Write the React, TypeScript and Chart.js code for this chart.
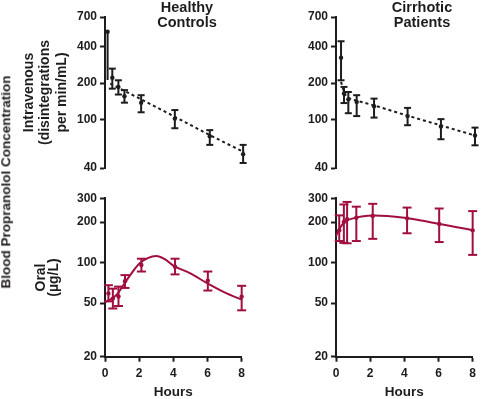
import React, { useEffect, useRef } from 'react';
import { Chart, registerables } from 'chart.js';

Chart.register(...registerables);

// ---------- Data ----------
const hoursTicks = [0, 2, 4, 6, 8];
const ivTicks = [40, 100, 200, 400, 700];
const oralTicks = [20, 50, 100, 200, 300];

// Healthy controls – intravenous
const hcIvHours = [0.15, 0.42, 0.77, 1.12, 2.08, 4.02, 6.03, 7.95];
const hcIvMean = [530, 221, 186, 156, 138, 102, 73, 52];
const hcIvLow = [212, 180, 161, 138, 115, 85, 62, 44];
const hcIvHigh = [530, 263, 211, 175, 159, 120, 82, 62];
const hcIvCaps = [false, true, true, true, true, true, true, true];
const hcIvFitHours = [0.3, 2, 4, 6, 8];
const hcIvFit = [198, 149, 106, 75, 54];

// Cirrhotic patients – intravenous
const lcIvHours = [0.29, 0.46, 0.71, 1.19, 2.19, 4.12, 6.04, 8.0];
const lcIvMean = [324, 164, 147, 140, 129, 107, 88, 74];
const lcIvLow = [211, 137, 113, 107, 104, 90, 69, 61.5];
const lcIvHigh = [442, 186, 169, 159, 149, 125, 101, 86];
const lcIvFitHours = [0.29, 0.5, 0.75, 1.2, 2.2, 4.1, 6, 8];
const lcIvFit = [205, 162, 150, 143, 131, 108, 90, 74];

// Healthy controls – oral
const hcOralHours = [0.2, 0.46, 0.79, 1.17, 2.13, 4.1, 6.02, 8];
const hcOralMean = [59, 54, 56, 72.8, 96, 93.2, 73.4, 55.9];
const hcOralLow = [51.5, 45.6, 47.6, 64.8, 85.8, 81.7, 62, 44.2];
const hcOralHigh = [67.9, 64, 66.3, 80.7, 106.8, 106.8, 85.8, 67.2];
const hcOralFitHours = [0, 0.3, 0.7, 1.3, 2, 2.5, 3, 3.5, 4, 5, 6, 7, 8];
const hcOralFit = [51, 53, 58, 75, 98, 108, 112, 106, 95, 83, 70, 60, 53];

// Cirrhotic patients – oral
const lcOralHours = [0.19, 0.46, 0.65, 1.19, 2.15, 4.16, 6.04, 8];
const lcOralMean = [173.5, 200, 210, 215, 222, 213, 193.6, 173.5];
const lcOralLow = [144.5, 140, 139, 144.5, 150, 165, 142, 114];
const lcOralHigh = [224, 270, 282, 260, 273, 256, 252, 241];
const lcOralFitHours = [0, 0.2, 0.5, 1, 1.5, 2.2, 3, 4, 5, 6, 7, 8];
const lcOralFit = [157, 178, 200, 213, 220, 224, 222, 215, 205, 194, 184, 174];

// ---------- Styles ----------
const FONT = "'Liberation Sans', Arial, Helvetica, sans-serif";
const INK = '#1f1c1d';
const RED = '#a10f3f';
const tickFont = { family: FONT, size: 12, weight: 'bold' as const };
const titleSize = 13.5;
const yTitleSize = 14;

type PanelProps = {
  left: number;
  top: number;
  width: number;
  height: number;
  yAxisWidth: number;
  padTop: number;
  padRight: number;
  padBottom: number;
  showX: boolean;
  xAxisHeight: number;
  yMin: number;
  yMax: number;
  yTicks: number[];
  yTitle?: string[];
  yTitlePad?: number;
  yTitleLineHeight?: number;
  color: string;
  dashed: boolean;
  smooth: boolean;
  capRadius: number;
  hours: number[];
  mean: number[];
  low: number[];
  high: number[];
  caps?: boolean[];
  fitHours: number[];
  fit: number[];
};

function Panel(p: PanelProps) {
  const ref = useRef<HTMLCanvasElement>(null);

  useEffect(() => {
    const errData: any[] = [];
    p.hours.forEach((h, i) => {
      errData.push({ x: h, y: p.low[i] }, { x: h, y: p.high[i] }, { x: h, y: null });
    });
    const meanData = p.hours.map((h, i) => ({ x: h, y: p.mean[i] }));
    const fitData = p.fitHours.map((h, i) => ({ x: h, y: p.fit[i] }));

    const gridOpts = {
      display: true,
      drawOnChartArea: false,
      drawTicks: true,
      tickLength: 5,
      tickColor: INK,
      tickWidth: 2,
    };
    const borderOpts = { display: true, color: INK, width: 2 };

    const chart = new Chart(ref.current as HTMLCanvasElement, {
      type: 'scatter',
      data: {
        datasets: [
          {
            data: fitData,
            showLine: true,
            borderColor: p.color,
            borderWidth: 2,
            borderDash: p.dashed ? [3, 3] : [],
            pointRadius: 0,
            tension: p.smooth ? 0.4 : 0,
            cubicInterpolationMode: p.smooth ? 'monotone' : 'default',
            clip: false,
            order: 3,
          } as any,
          {
            data: errData,
            showLine: true,
            spanGaps: false,
            borderColor: p.color,
            borderWidth: 2,
            pointStyle: 'line',
            pointRadius: (ctx: any) => {
              const i = ctx.dataIndex;
              if (i % 3 === 2) return 0;
              const k = Math.floor(i / 3);
              return !p.caps || p.caps[k] ? p.capRadius : 0;
            },
            pointBorderColor: p.color,
            pointBorderWidth: 2,
            pointHoverRadius: 0,
            clip: false,
            order: 2,
          } as any,
          {
            data: meanData,
            showLine: false,
            pointStyle: 'circle',
            pointRadius: 2.2,
            pointBackgroundColor: p.color,
            pointBorderColor: p.color,
            pointBorderWidth: 0,
            clip: false,
            order: 1,
          } as any,
        ],
      },
      options: {
        responsive: false,
        animation: false,
        devicePixelRatio: 1,
        events: [],
        layout: {
          padding: { left: 0, top: p.padTop, right: p.padRight, bottom: p.padBottom },
        },
        plugins: {
          legend: { display: false },
          tooltip: { enabled: false },
        },
        scales: {
          x: {
            type: 'linear',
            min: 0,
            max: 8,
            display: p.showX,
            afterBuildTicks: (s: any) => {
              s.ticks = hoursTicks.map((v) => ({ value: v }));
            },
            ticks: { font: tickFont, color: INK, padding: 5, callback: (v: any) => String(v) },
            grid: gridOpts,
            border: borderOpts,
            title: {
              display: true,
              text: 'Hours',
              color: INK,
              font: { family: FONT, size: titleSize, weight: 'bold', lineHeight: 1 },
              padding: 0,
            },
            afterFit: (s: any) => {
              s.height = p.xAxisHeight;
            },
          },
          y: {
            type: 'logarithmic',
            min: p.yMin,
            max: p.yMax,
            afterBuildTicks: (s: any) => {
              s.ticks = p.yTicks.map((v) => ({ value: v }));
            },
            ticks: {
              font: tickFont,
              color: INK,
              padding: 3,
              autoSkip: false,
              callback: (v: any) => String(v),
            },
            grid: gridOpts,
            border: borderOpts,
            title: {
              display: !!p.yTitle,
              text: p.yTitle || '',
              color: INK,
              font: {
                family: FONT,
                size: yTitleSize,
                weight: 'bold',
                lineHeight: p.yTitleLineHeight || 1.2,
              },
              padding: { top: p.yTitlePad || 0, bottom: 0 },
            },
            afterFit: (s: any) => {
              s.width = p.yAxisWidth;
            },
          },
        },
      } as any,
    });
    return () => chart.destroy();
  }, []);

  return (
    <canvas
      ref={ref}
      width={p.width}
      height={p.height}
      style={{
        position: 'absolute',
        left: p.left,
        top: p.top,
        width: p.width,
        height: p.height,
      }}
    />
  );
}

const textStyle: React.CSSProperties = {
  position: 'absolute',
  fontFamily: FONT,
  fontWeight: 700,
  fontSize: titleSize,
  color: INK,
  whiteSpace: 'nowrap',
  textAlign: 'center',
};

export default function App() {
  const topCommon = {
    top: 0,
    height: 185,
    padTop: 17,
    padBottom: 17,
    showX: false,
    xAxisHeight: 0,
    yMin: 40,
    yMax: 700,
    yTicks: ivTicks,
    color: INK,
    dashed: true,
    smooth: false,
    capRadius: 3.5,
  };
  const bottomCommon = {
    top: 185,
    height: 214,
    padTop: 13.3,
    padBottom: 0,
    showX: true,
    xAxisHeight: 42.3,
    yMin: 20,
    yMax: 300,
    yTicks: oralTicks,
    color: RED,
    dashed: false,
    smooth: true,
    capRadius: 4.5,
  };
  return (
    <div
      style={{
        position: 'absolute',
        left: 0,
        top: 0,
        width: 481,
        height: 399,
        background: '#fff',
        overflow: 'hidden',
      }}
    >
      <Panel
        {...topCommon}
        left={0}
        width={250}
        yAxisWidth={105}
        padRight={6}
        yTitle={['Intravenous', '(disintegrations', 'per min/mL)']}
        yTitlePad={21}
        yTitleLineHeight={1.17}
        hours={hcIvHours}
        mean={hcIvMean}
        low={hcIvLow}
        high={hcIvHigh}
        caps={hcIvCaps}
        fitHours={hcIvFitHours}
        fit={hcIvFit}
      />
      <Panel
        {...topCommon}
        left={250}
        width={231}
        yAxisWidth={86}
        padRight={6}
        hours={lcIvHours}
        mean={lcIvMean}
        low={lcIvLow}
        high={lcIvHigh}
        fitHours={lcIvFitHours}
        fit={lcIvFit}
      />
      <Panel
        {...bottomCommon}
        left={0}
        width={250}
        yAxisWidth={105}
        padRight={6}
        yTitle={['Oral', '(µg/L)']}
        yTitlePad={34}
        yTitleLineHeight={0.97}
        hours={hcOralHours}
        mean={hcOralMean}
        low={hcOralLow}
        high={hcOralHigh}
        fitHours={hcOralFitHours}
        fit={hcOralFit}
      />
      <Panel
        {...bottomCommon}
        left={250}
        width={231}
        yAxisWidth={86}
        padRight={6}
        hours={lcOralHours}
        mean={lcOralMean}
        low={lcOralLow}
        high={lcOralHigh}
        fitHours={lcOralFitHours}
        fit={lcOralFit}
      />
      <div
        style={{
          ...textStyle,
          fontSize: 14.5,
          left: 187,
          top: 0,
          lineHeight: '15px',
          transform: 'translateX(-50%)',
        }}
      >
        Healthy
        <br />
        Controls
      </div>
      <div
        style={{
          ...textStyle,
          fontSize: 14.5,
          left: 422,
          top: 0,
          lineHeight: '15px',
          transform: 'translateX(-50%)',
        }}
      >
        Cirrhotic
        <br />
        Patients
      </div>
      <div
        style={{
          ...textStyle,
          left: 6,
          top: 182,
          lineHeight: 1,
          transform: 'translate(-50%, -50%) rotate(-90deg)',
        }}
      >
        Blood Propranolol Concentration
      </div>
    </div>
  );
}
